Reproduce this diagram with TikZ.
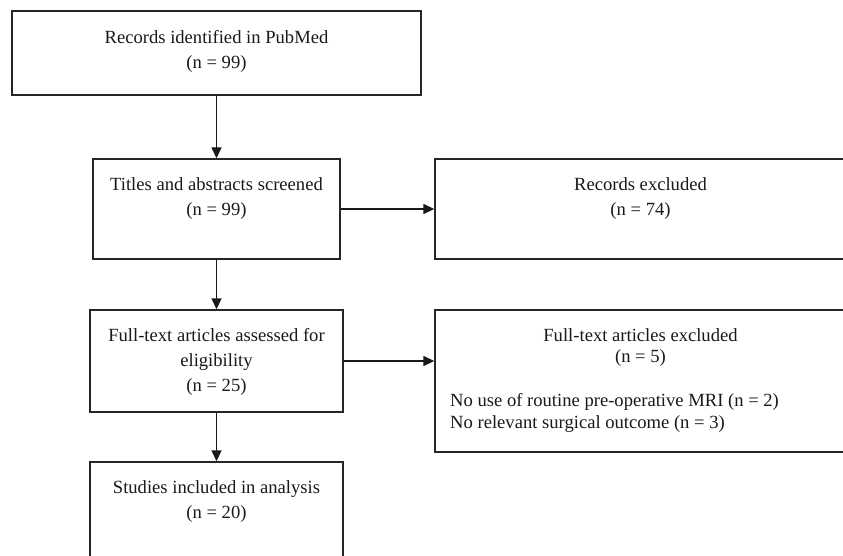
\documentclass[tikz,border=0pt]{standalone}
\usepackage{fontspec}
\setmainfont{Liberation Serif}
\usetikzlibrary{arrows.meta}
\begin{document}
\begin{tikzpicture}[x=1pt,y=-1pt,
  flowbox/.style={draw=black!85,line width=1.4pt,inner sep=0pt},
  boxtext/.style={anchor=north,align=center,inner sep=0pt,text=black!90,font=\fontsize{18.6}{25}\selectfont},
  flowarrow/.style={draw=black!90,line width=1.4pt,-{Triangle[length=11pt,width=10pt]}}]
\useasboundingbox (0,0) rectangle (843,556);
\clip (0,0) rectangle (843,556);
\node[flowbox,minimum width=409pt,minimum height=84pt] (ident) at (216.5,53) {};
\node[flowbox,minimum width=247pt,minimum height=100pt] (screen) at (216.5,209) {};
\node[flowbox,minimum width=411pt,minimum height=100pt] (excl) at (640.5,209) {};
\node[flowbox,minimum width=253pt,minimum height=102pt] (assess) at (216.5,361) {};
\node[flowbox,minimum width=411pt,minimum height=142pt] (fullexcl) at (640.5,381) {};
\node[flowbox,minimum width=253pt,minimum height=118pt] (incl) at (216.5,521) {};
\node[boxtext] (identtext) at ([yshift=-20pt]ident.north) {Records identified in PubMed\\(n = 99)};
\node[boxtext] (screentext) at ([yshift=-19pt]screen.north) {Titles and abstracts screened\\(n = 99)};
\node[boxtext] (excltext) at ([yshift=-19pt]excl.north) {Records excluded\\(n = 74)};
\node[boxtext] (assesstext) at ([yshift=-19pt]assess.north) {Full-text articles assessed for\\eligibility\\(n = 25)};
\node[boxtext,font=\fontsize{18.6}{21.5}\selectfont] (fullexcltext) at ([yshift=-19pt]fullexcl.north) {Full-text articles excluded\\(n = 5)};
\node[boxtext,anchor=north west,align=left,font=\fontsize{18.6}{22}\selectfont] (reasons) at (450,393) {No use of routine pre-operative MRI (n = 2)\\No relevant surgical outcome (n = 3)};
\node[boxtext] (incltext) at ([yshift=-19pt]incl.north) {Studies included in analysis\\(n = 20)};
\draw[flowarrow] (ident) -- (screen);
\draw[flowarrow] (screen) -- (excl);
\draw[flowarrow] (screen) -- (assess);
\draw[flowarrow] (assess.east) -- (assess.east -| fullexcl.west);
\draw[flowarrow] (assess) -- (incl);
\end{tikzpicture}
\end{document}
